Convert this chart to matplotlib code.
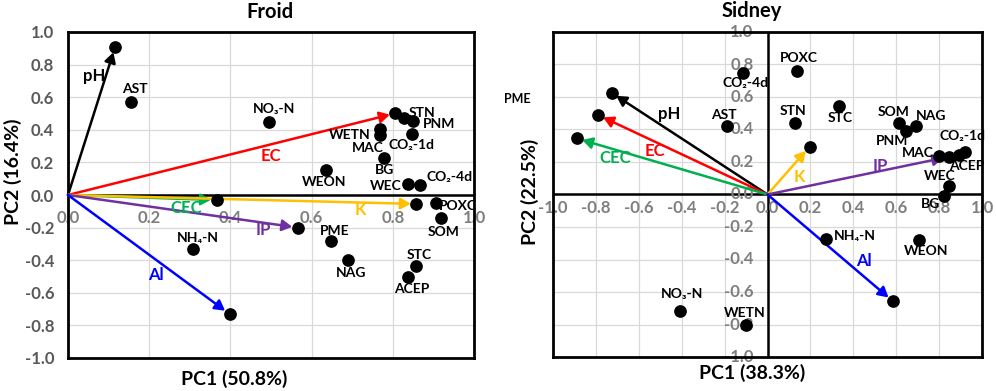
import matplotlib
matplotlib.use("Agg")
import matplotlib.pyplot as plt

plt.rcParams['font.family'] = ['Lato', 'DejaVu Sans']
plt.rcParams['font.weight'] = 'bold'

# ---------------- Froid data ----------------
froid_vars = ["AST", "NO₃-N", "STN", "PNM", "WETN", "MAC", "CO₂-1d", "BG", "WEON",
              "WEC", "CO₂-4d", "POXC", "SOM", "PME", "NAG", "STC", "ACEP", "NH₄-N"]
froid_pc1 = [0.156, 0.496, 0.827, 0.849, 0.768, 0.768, 0.848, 0.778, 0.636,
             0.838, 0.867, 0.907, 0.918, 0.649, 0.690, 0.858, 0.838, 0.307]
froid_pc2 = [0.571, 0.448, 0.471, 0.456, 0.403, 0.368, 0.372, 0.229, 0.153,
             0.066, 0.061, -0.051, -0.139, -0.282, -0.399, -0.436, -0.501, -0.331]

froid_arrow_vars = ["pH", "EC", "CEC", "K", "IP", "Al"]
froid_arrow_pc1 = [0.116, 0.806, 0.366, 0.858, 0.566, 0.398]
froid_arrow_pc2 = [0.908, 0.501, -0.031, -0.055, -0.200, -0.730]

# ---------------- Sidney data ----------------
sidney_vars = ["CO₂-4d", "AST", "NO₃-N", "WETN", "POXC", "STN", "STC", "SOM", "PNM",
               "NAG", "MAC", "ACEP", "CO₂-1d", "WEC", "BG", "NH₄-N", "WEON"]
sidney_pc1 = [-0.113, -0.188, -0.407, -0.099, 0.138, 0.128, 0.332, 0.615, 0.645,
              0.693, 0.801, 0.895, 0.919, 0.845, 0.822, 0.274, 0.708]
sidney_pc2 = [0.745, 0.421, -0.718, -0.804, 0.759, 0.443, 0.544, 0.443, 0.392,
              0.421, 0.238, 0.242, 0.263, 0.054, -0.008, -0.271, -0.281]

sidney_arrow_vars = ["pH", "EC", "CEC", "K", "IP", "Al"]
sidney_arrow_pc1 = [-0.727, -0.790, -0.889, 0.196, 0.845, 0.584]
sidney_arrow_pc2 = [0.626, 0.489, 0.345, 0.294, 0.232, -0.656]

tick_values = [-1.0, -0.8, -0.6, -0.4, -0.2, 0.0, 0.2, 0.4, 0.6, 0.8, 1.0]

# ---------------- styles / positions ----------------
arrow_colors = {"pH": "#000000", "EC": "#ff0000", "CEC": "#00b050",
                "K": "#ffc000", "IP": "#7030a0", "Al": "#0000ff"}

froid_label_off = {"AST": (4, 13), "NO₃-N": (5, 13), "STN": (18, 5), "PNM": (26, -3),
                   "WETN": (-30, -6), "MAC": (-12, -13), "CO₂-1d": (-1, -11),
                   "BG": (1, -12), "WEON": (-2, -12), "WEC": (-22, -2),
                   "CO₂-4d": (30, 8), "POXC": (22, -3), "SOM": (3, -14),
                   "PME": (3, 10), "NAG": (3, -13), "STC": (3, 11), "ACEP": (3, -12),
                   "NH₄-N": (5, 11)}
froid_arrow_label_pos = {"pH": (0.064, 0.73), "EC": (0.50, 0.24), "CEC": (0.29, -0.08),
                         "K": (0.72, -0.092), "IP": (0.48, -0.215), "Al": (0.216, -0.49)}

sidney_label_off = {"CO₂-4d": (2, -10), "AST": (-3, 11), "NO₃-N": (2, 17), "WETN": (-2, 12),
                    "POXC": (2, 13), "STN": (-2, 12), "STC": (2, -12), "SOM": (-6, 11),
                    "PNM": (-14, -10), "NAG": (15, 10), "MAC": (-22, 3), "ACEP": (7, -11),
                    "CO₂-1d": (-2, 16), "WEC": (-9, 10), "BG": (-13, -8),
                    "NH₄-N": (29, 3), "WEON": (7, -11)}
sidney_arrow_label_pos = {"pH": (-0.46, 0.495), "EC": (-0.524, 0.267), "CEC": (-0.712, 0.226),
                          "K": (0.149, 0.105), "IP": (0.524, 0.177), "Al": (0.449, -0.41)}

fig = plt.figure(figsize=(9.96, 3.91), dpi=100)
ax1 = fig.add_axes([68/996, 1-358/391, (474-68)/996, (358-32)/391])
ax2 = fig.add_axes([553/996, 1-357/391, (982-553)/996, (357-32)/391])

DOT_S = 66
GRID = "#d9d9d9"
LBL = 10
TICK = 12


def style_axes(ax, xmin):
    ax.set_xlim(xmin, 1.0)
    ax.set_ylim(-1.0, 1.0)
    ax.set_xticks([t for t in tick_values if t >= xmin])
    ax.set_yticks(tick_values)
    ax.grid(True, color=GRID, lw=0.9, zorder=0)
    ax.set_axisbelow(True)
    for s in ax.spines.values():
        s.set_linewidth(2.0)
        s.set_color("black")
    ax.tick_params(length=0, labelbottom=False)
    ax.axhline(0, color="black", lw=1.8, zorder=1)


def draw_panel(ax, vars_, pc1, pc2, offs, avars, apc1, apc2, alab):
    for name, x, y in zip(avars, apc1, apc2):
        c = arrow_colors[name]
        ax.annotate("", xy=(x, y), xytext=(0, 0),
                    arrowprops=dict(arrowstyle="-|>,head_length=0.5,head_width=0.28",
                                    color=c, lw=1.8, shrinkA=0, shrinkB=4,
                                    mutation_scale=12),
                    zorder=3)
        ax.scatter([x], [y], s=DOT_S, color="black", zorder=4)
        lx, ly = alab[name]
        ax.text(lx, ly, name, color=c, fontsize=12, fontweight="bold",
                ha="center", va="center", zorder=5)
    ax.scatter(pc1, pc2, s=DOT_S, color="black", zorder=4)
    for name, x, y in zip(vars_, pc1, pc2):
        dx, dy = offs[name]
        ax.annotate(name, xy=(x, y), xytext=(dx, dy), textcoords="offset pixels",
                    ha="center", va="center", fontsize=LBL, fontweight="bold",
                    color="black", zorder=5)


# ---------- Froid ----------
style_axes(ax1, 0.0)
ax1.tick_params(axis="y", labelsize=TICK, labelcolor="#595959", pad=10)
ax1.set_yticklabels([f"{t:.1f}" for t in tick_values], fontweight="bold")
for t in [v for v in tick_values if v >= 0]:
    ax1.annotate(f"{t:.1f}", xy=(t, 0), xytext=(0, -23), textcoords="offset pixels",
                 ha="center", va="center", fontsize=TICK, fontweight="bold",
                 color="#7f7f7f", annotation_clip=False, zorder=2)
draw_panel(ax1, froid_vars, froid_pc1, froid_pc2, froid_label_off,
           froid_arrow_vars, froid_arrow_pc1, froid_arrow_pc2, froid_arrow_label_pos)

# ---------- Sidney ----------
style_axes(ax2, -1.0)
ax2.tick_params(labelleft=False)
ax2.axvline(0, color="black", lw=1.8, zorder=1)
for t in tick_values:
    ax2.annotate(f"{t:.1f}", xy=(t, 0), xytext=(0, -14), textcoords="offset pixels",
                 ha="center", va="center", fontsize=TICK, fontweight="bold",
                 color="#7f7f7f", annotation_clip=False, zorder=2)
    ax2.annotate(f"{t:.1f}", xy=(0, t), xytext=(-14, 0), textcoords="offset pixels",
                 ha="right", va="center", fontsize=TICK, fontweight="bold",
                 color="#7f7f7f", annotation_clip=False, zorder=2)
draw_panel(ax2, sidney_vars, sidney_pc1, sidney_pc2, sidney_label_off,
           sidney_arrow_vars, sidney_arrow_pc1, sidney_arrow_pc2, sidney_arrow_label_pos)
ax2.text(-1.166, 0.59, "PME", fontsize=9, fontweight="bold", ha="center", va="center",
         clip_on=False)

# ---------- titles / labels ----------
fig.text(270/996, 1-12/391, "Froid", ha="center", va="center", fontsize=14.5, fontweight="bold")
fig.text(752/996, 1-11/391, "Sidney", ha="center", va="center", fontsize=14.5, fontweight="bold")
fig.text(13/996, 1-172/391, "PC2 (16.4%)", rotation=90, ha="center", va="center",
         fontsize=14, fontweight="bold")
fig.text(530/996, 1-192/391, "PC2 (22.5%)", rotation=90, ha="center", va="center",
         fontsize=14, fontweight="bold")
fig.text(234/996, 1-379/391, "PC1 (50.8%)", ha="center", va="center",
         fontsize=14, fontweight="bold")
fig.text(752/996, 1-373/391, "PC1 (38.3%)", ha="center", va="center",
         fontsize=14, fontweight="bold")

fig.savefig("out.png", dpi=100)
